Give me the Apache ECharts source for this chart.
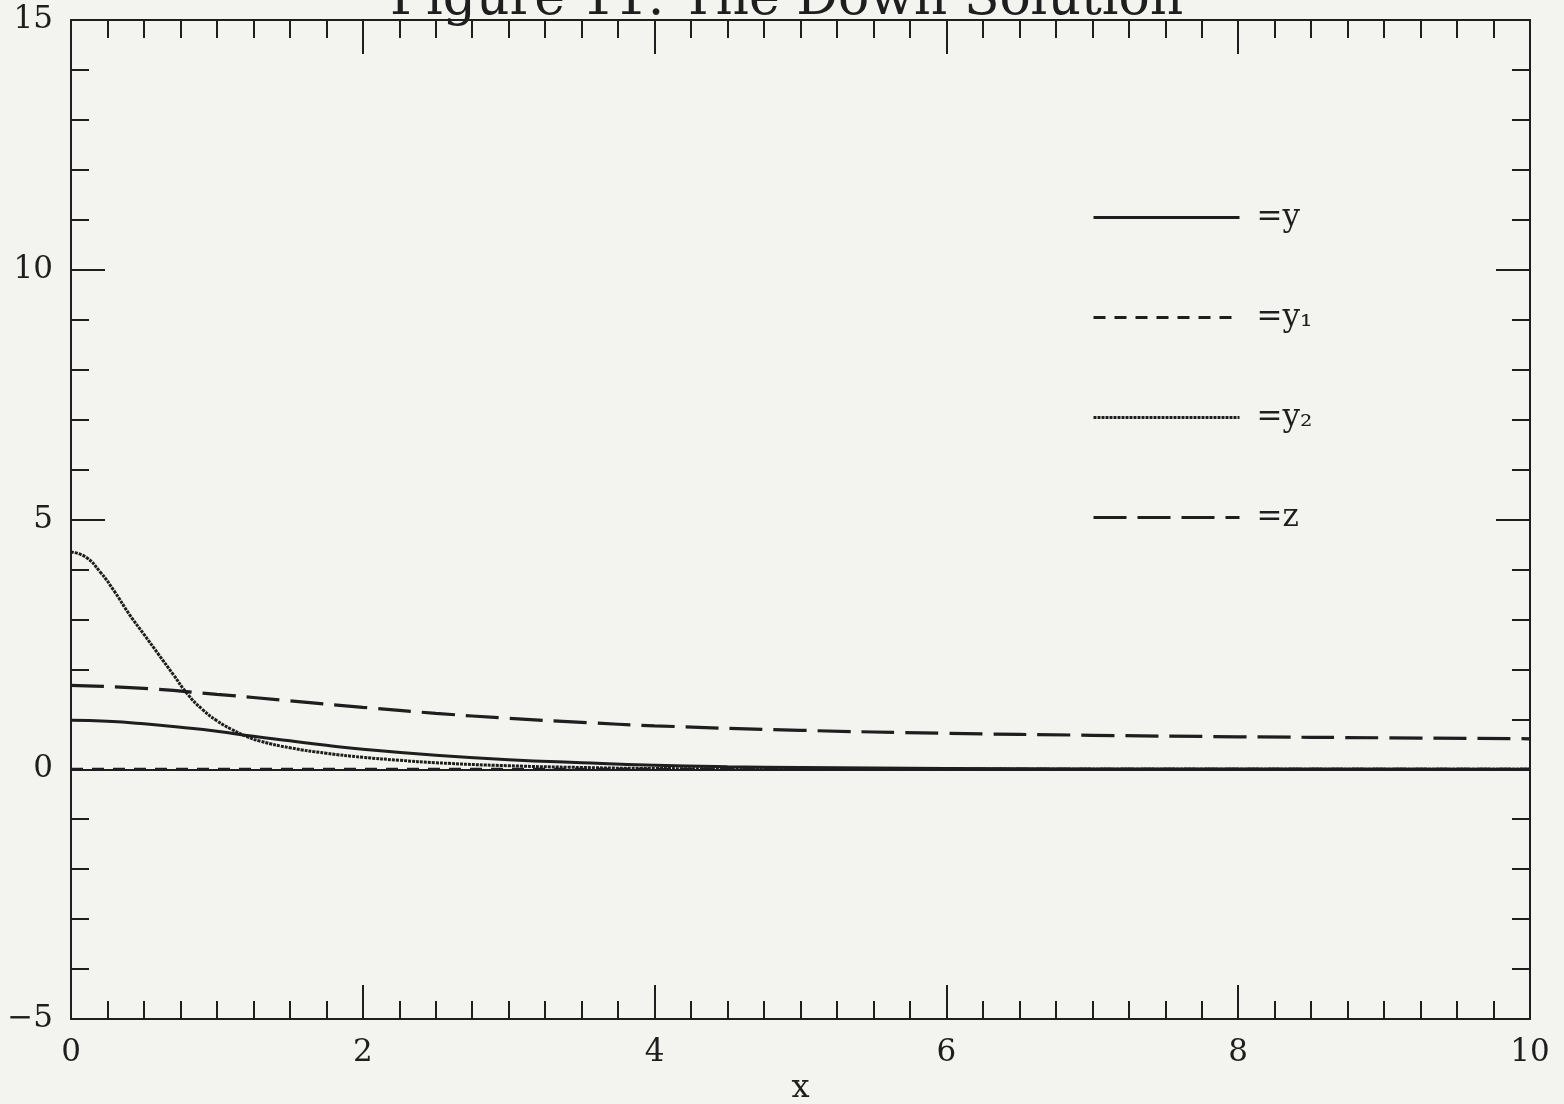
<!DOCTYPE html>
<html>
<head>
<meta charset="utf-8">
<title>Figure 11. The Down Solution</title>
<script src="https://cdn.jsdelivr.net/npm/echarts@6/dist/echarts.min.js"></script>
<style>
html, body { margin: 0; padding: 0; background: #f3f4ef; }
#chart { width: 1564px; height: 1104px; }
</style>
</head>
<body>
<div id="chart"></div>
<script>
// values, [x, value]
var yVals = [[0,0.98],[0.25,0.96],[0.5,0.91],[0.75,0.84],[1,0.76],[1.25,0.66],[1.5,0.57],[1.75,0.48],[2,0.40],[2.5,0.28],[3,0.19],[3.5,0.13],[4,0.08],[4.5,0.05],[5,0.035],[6,0.015],[7,0.006],[8,0.003],[10,0]];
var y1Vals = [[0,0],[10,0]];
var y2Vals = [[0,4.35],[0.1,4.25],[0.2,3.95],[0.3,3.55],[0.4,3.1],[0.5,2.7],[0.6,2.3],[0.7,1.9],[0.8,1.5],[0.9,1.2],[1,0.97],[1.1,0.8],[1.2,0.66],[1.3,0.56],[1.5,0.43],[1.75,0.32],[2,0.24],[2.25,0.18],[2.5,0.13],[3,0.07],[3.5,0.035],[4,0.015],[5,0.005],[6,0],[10,0]];
var zVals = [[0,1.68],[0.5,1.62],[1,1.5],[1.5,1.37],[2,1.24],[2.5,1.12],[3,1.02],[3.5,0.94],[4,0.87],[5,0.78],[6,0.72],[7,0.68],[8,0.65],[9,0.63],[10,0.61]];
var legendNames = ['y', 'y1', 'y2', 'z'];
var legendText = {y: '=y', y1: '=y\u2081', y2: '=y\u2082', z: '=z'};

var ink = '#1e1e1e';
var serif = 'DejaVu Serif';

var chart = echarts.init(document.getElementById('chart'));

function frameAxis(pos, showLabel, isX) {
	return {
		type: 'value',
		position: pos,
		min: isX ? 0 : -5,
		max: isX ? 10 : 15,
		interval: isX ? 2 : 5,
		axisLine: {show: true, onZero: false, lineStyle: {color: ink, width: 2}},
		axisTick: {show: true, inside: true, length: 34, lineStyle: {color: ink, width: 2}},
		minorTick: {show: true, splitNumber: isX ? 8 : 5, length: 18, lineStyle: {color: ink, width: 2}},
		splitLine: {show: false},
		axisLabel: {
			show: showLabel,
			color: ink,
			fontFamily: serif,
			fontSize: 31,
			margin: 18,
			formatter: function(v) { return String(v).replace('-', '\u2212'); }
		}
	};
}

var xBottom = frameAxis('bottom', true, true);
xBottom.name = 'x';
xBottom.nameLocation = 'middle';
xBottom.nameGap = 52;
xBottom.nameTextStyle = {color: ink, fontFamily: serif, fontSize: 32};

chart.setOption({
	backgroundColor: '#f3f4ef',
	animation: false,
	color: [ink, ink, ink, ink],
	title: {
		text: 'Figure 11. The Down Solution',
		left: 385,
		top: -31,
		textStyle: {color: ink, fontFamily: serif, fontSize: 52, fontWeight: 'normal'}
	},
	grid: {left: 71, right: 34, top: 20, bottom: 85, outerBoundsMode: 'none'},
	legend: {
		data: legendNames,
		orient: 'vertical',
		left: 1092,
		top: 202,
		padding: 0,
		itemWidth: 146,
		itemHeight: 14,
		itemGap: 69,
		itemStyle: {opacity: 0},
		lineStyle: {width: 3},
		textStyle: {color: ink, fontFamily: serif, fontSize: 31, padding: [0, 0, 0, 12]},
		formatter: function(name) { return legendText[name]; }
	},
	xAxis: [xBottom, frameAxis('top', false, true)],
	yAxis: [frameAxis('left', true, false), frameAxis('right', false, false)],
	series: [
		{
			name: 'y', type: 'line', data: yVals, smooth: true, symbol: 'none',
			lineStyle: {color: ink, width: 3}
		},
		{
			name: 'y1', type: 'line', data: y1Vals, symbol: 'none',
			lineStyle: {color: ink, width: 3, type: [12, 9]},
			markLine: {
				silent: true, symbol: 'none', label: {show: false},
				lineStyle: {color: ink, width: 2, type: 'solid'},
				data: [{yAxis: 0}]
			}
		},
		{
			name: 'y2', type: 'line', data: y2Vals, smooth: true, symbol: 'none',
			lineStyle: {color: ink, width: 3, type: [3, 1]}
		},
		{
			name: 'z', type: 'line', data: zVals, smooth: true, symbol: 'none',
			lineStyle: {color: ink, width: 3.2, type: [33, 11]}
		}
	]
});
</script>
</body>
</html>
